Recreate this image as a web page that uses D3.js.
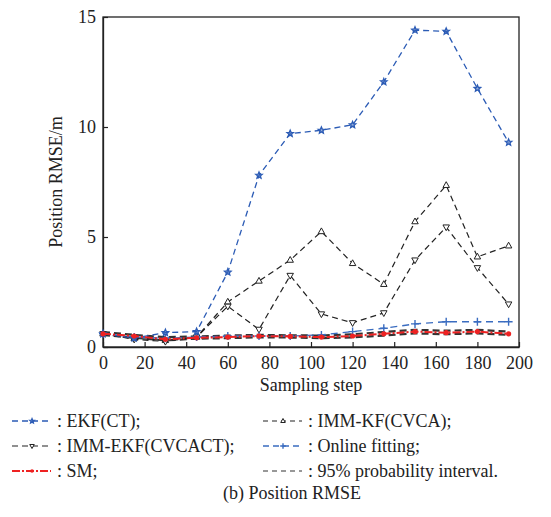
<!DOCTYPE html>
<html><head><meta charset="utf-8">
<script src="https://cdn.jsdelivr.net/npm/d3@7/dist/d3.min.js"></script>
<style>body{margin:0;background:#fff}svg{display:block}
svg text{font-family:'Liberation Serif';}</style>
</head><body>
<script>
const steps = [0,15,30,45,60,75,90,105,120,135,150,165,180,195];
const ekfCT = [0.6,0.4,0.65,0.7,3.4,7.8,9.7,9.85,10.1,12.05,14.4,14.35,11.75,9.3];
const immKF = [0.6,0.4,0.3,0.45,2.05,3.0,3.95,5.25,3.8,2.85,5.7,7.35,4.1,4.6];
const immEKF = [0.6,0.35,0.25,0.45,1.85,0.8,3.25,1.5,1.1,1.55,3.95,5.45,3.6,1.95];
const online = [0.6,0.45,0.4,0.45,0.5,0.5,0.5,0.55,0.7,0.85,1.05,1.15,1.15,1.15];
const sm = [0.6,0.5,0.35,0.42,0.45,0.5,0.48,0.45,0.5,0.6,0.7,0.65,0.7,0.6];
const ciUpper = [0.68,0.55,0.45,0.48,0.52,0.55,0.53,0.52,0.58,0.68,0.78,0.74,0.78,0.7];
const ciLower = [0.55,0.42,0.3,0.38,0.4,0.44,0.43,0.4,0.44,0.52,0.62,0.58,0.62,0.55];
const xTicks = [0,20,40,60,80,100,120,140,160,180,200];
const yTicks = [0,5,10,15];

const W=551,H=517;
const svg=d3.select("body").append("svg").attr("width",W).attr("height",H);
const x=d3.scaleLinear().domain([0,200]).range([103,519]);
const y=d3.scaleLinear().domain([0,15]).range([347,17]);

svg.append("rect").attr("x",103).attr("y",17).attr("width",416).attr("height",330)
  .attr("fill","none").attr("stroke","#222").attr("stroke-width",1.3);

const xa=svg.append("g").attr("transform","translate(0,347)")
  .call(d3.axisBottom(x).tickValues(xTicks).tickSizeInner(-5).tickSizeOuter(0).tickPadding(9));
const ya=svg.append("g").attr("transform","translate(103,0)")
  .call(d3.axisLeft(y).tickValues(yTicks).tickSizeInner(-5).tickSizeOuter(0).tickPadding(7));
[xa,ya].forEach(a=>{
  a.attr("font-family","Liberation Serif").attr("font-size",18);
  a.select(".domain").attr("stroke","#222").attr("stroke-width",1.3);
  a.selectAll(".tick line").attr("stroke","#222").attr("stroke-width",1.2);
  a.selectAll("text").attr("fill","#222");});

function txt(xp,yp,s,anchor,fs){return svg.append("text").attr("x",xp).attr("y",yp)
  .attr("font-family","Liberation Serif").attr("font-size",fs||18).attr("fill","#222").attr("text-anchor",anchor||"start").text(s);}
txt(311,391,"Sampling step","middle");
svg.append("text").attr("transform","translate(62,182) rotate(-90)").attr("text-anchor","middle")
  .attr("font-family","Liberation Serif").attr("font-size",18).attr("fill","#222").text("Position RMSE/m");

const line=d3.line().x((d,i)=>x(steps[i])).y(d=>y(d));

function star(cx,cy,r){const pts=[];for(let k=0;k<10;k++){const a=-Math.PI/2+k*Math.PI/5;const rr=k%2?r*0.45:r;pts.push([cx+rr*Math.cos(a),cy+rr*Math.sin(a)]);}return "M"+pts.join("L")+"Z";}
function triUp(cx,cy,r){return `M${cx},${cy-r}L${cx+r*0.9},${cy+r*0.6}L${cx-r*0.9},${cy+r*0.6}Z`;}
function triDown(cx,cy,r){return `M${cx},${cy+r}L${cx+r*0.9},${cy-r*0.6}L${cx-r*0.9},${cy-r*0.6}Z`;}
function plus(cx,cy,r){return `M${cx-r},${cy}L${cx+r},${cy}M${cx},${cy-r}L${cx},${cy+r}`;}

const series=[
 {data:ciUpper,color:"#333",dash:"7,4",w:2.2,marker:null},
 {data:ciLower,color:"#333",dash:"7,4",w:2.2,marker:null},
 {data:immKF,color:"#222",dash:"6,4",w:1.2,marker:"triUp"},
 {data:immEKF,color:"#222",dash:"6,4",w:1.2,marker:"triDown"},
 {data:online,color:"#3a6cc0",dash:"7,5",w:1.4,marker:"plus"},
 {data:ekfCT,color:"#2b5bb5",dash:"6,4",w:1.3,marker:"star"},
 {data:sm,color:"#ee2222",dash:"8,2,2,2",w:2,marker:"dot"}
];
function drawMarker(g,type,cx,cy,color,s){
  s=s||1;
  if(type==="star") g.append("path").attr("d",star(cx,cy,3.4*s)).attr("fill",color).attr("fill-opacity",0.5).attr("stroke",color).attr("stroke-width",1.3);
  else if(type==="triUp") g.append("path").attr("d",triUp(cx,cy,3.6*s)).attr("fill","#fff").attr("stroke","#222").attr("stroke-width",1);
  else if(type==="triDown") g.append("path").attr("d",triDown(cx,cy,3.6*s)).attr("fill","#fff").attr("stroke","#222").attr("stroke-width",1);
  else if(type==="plus") g.append("path").attr("d",plus(cx,cy,4*s)).attr("stroke",color).attr("stroke-width",1.4);
  else if(type==="dot") g.append("circle").attr("cx",cx).attr("cy",cy).attr("r",2.6*s).attr("fill",color);
}
series.forEach(s=>{
  const g=svg.append("g");
  g.append("path").attr("d",line(s.data)).attr("fill","none").attr("stroke",s.color)
   .attr("stroke-width",s.w).attr("stroke-dasharray",s.dash);
  if(s.marker) s.data.forEach((d,i)=>drawMarker(g,s.marker,x(steps[i]),y(d),s.color));
});

const leg=[
 {label:": EKF(CT);",x0:12,y0:421,color:"#2b5bb5",dash:"6,4",w:1.3,marker:"star"},
 {label:": IMM-KF(CVCA);",x0:263,y0:421,color:"#222",dash:"5,4",w:1.1,marker:"triUp"},
 {label:": IMM-EKF(CVCACT);",x0:12,y0:446,color:"#222",dash:"6,4",w:1.1,marker:"triDown"},
 {label:": Online fitting;",x0:263,y0:446,color:"#3a6cc0",dash:"6,4",w:1.3,marker:"plus"},
 {label:": SM;",x0:12,y0:471,color:"#ee2222",dash:"8,2,2,2",w:2,marker:"dot"},
 {label:": 95% probability interval.",x0:263,y0:471,color:"#333",dash:"5,4",w:1.1,marker:null}
];
leg.forEach(l=>{
  const g=svg.append("g");
  g.append("line").attr("x1",l.x0).attr("x2",l.x0+39).attr("y1",l.y0).attr("y2",l.y0)
   .attr("stroke",l.color).attr("stroke-width",l.w).attr("stroke-dasharray",l.dash);
  if(l.marker) drawMarker(g,l.marker,l.x0+20,l.y0,l.color,0.7);
  txt(l.x0+45,l.y0+6,l.label);
});
txt(292,499,"(b) Position RMSE","middle");
</script>
</body></html>
